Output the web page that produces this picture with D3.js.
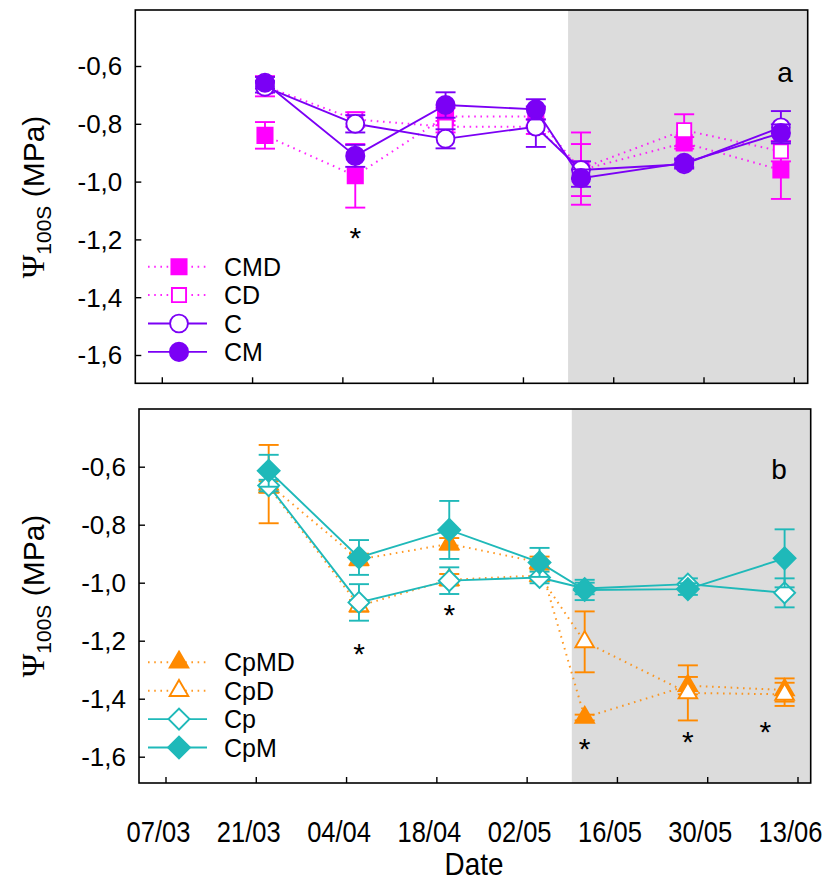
<!DOCTYPE html>
<html><head><meta charset="utf-8">
<script src="https://cdn.jsdelivr.net/npm/d3@7"></script>
<style>body{margin:0;background:#fff}svg{display:block}</style>
</head><body><svg id="c" width="826" height="882"></svg>
<script>
// ---------- data ----------
const dates = ["23/03","06/04","20/04","04/05","11/05","27/05","11/06"];
const xTickLabels = ["07/03","21/03","04/04","18/04","02/05","16/05","30/05","13/06"];
const yTicks = [-0.6,-0.8,-1.0,-1.2,-1.4,-1.6];
const shadeStart = "09/05";

// panel a
const CMD = [-0.84,-0.98,-0.775,-0.775,-0.96,-0.866,-0.96];
const CMD_err = [0.046,0.11,0.03,0.03,0.09,0.02,0.10];
const CD = [-0.67,-0.785,-0.81,-0.81,-0.955,-0.822,-0.895];
const CD_err = [0.035,0.025,0.02,0.025,0.125,0.055,0.035];
const C = [-0.672,-0.80,-0.852,-0.81,-0.96,-0.94,-0.812];
const C_err = [0.02,0.03,0.033,0.07,0.03,0.015,0.056];
const CM = [-0.658,-0.911,-0.735,-0.75,-0.988,-0.935,-0.832];
const CM_err = [0.02,0.038,0.044,0.035,0.03,0.015,0.03];
const starsA_dates = ["06/04"], starsA_vals = [-1.17];

// panel b
const CpMD = [-0.66,-0.92,-0.866,-0.93,-1.465,-1.355,-1.37];
const CpMD_err = [0.135,0.02,0.02,0.02,0.01,0.03,0.04];
const CpD = [-0.67,-1.08,-0.99,-0.975,-1.204,-1.38,-1.385];
const CpD_err = [0.02,0.02,0.02,0.02,0.105,0.095,0.04];
const Cp = [-0.665,-1.068,-0.993,-0.982,-1.02,-1.005,-1.035];
const Cp_err = [0.02,0.063,0.046,0.02,0.02,0.02,0.05];
const CpM = [-0.614,-0.913,-0.818,-0.93,-1.025,-1.022,-0.916];
const CpM_err = [0.055,0.06,0.10,0.05,0.035,0.02,0.10];
const starsB_dates = ["06/04","20/04","11/05","27/05","08/06"];
const starsB_vals = [-1.22,-1.088,-1.55,-1.525,-1.49];

// ---------- helpers ----------
const parse = s => d3.utcParse("%d/%m/%Y")(s + "/2013");
const svg = d3.select("#c");
const MAG = "#ff00ff", PUR = "#7b00f5", TEAL = "#1fb9b9", ORA = "#ff8a00";
const FONT = "'Liberation Sans', Arial, sans-serif";

function shape(type, size) {
  if (type === "diamond") return d3.symbol().type(d3.symbolSquare).size(size)();
  const t = {circle: d3.symbolCircle, square: d3.symbolSquare, triangle: d3.symbolTriangle}[type];
  return d3.symbol().type(t).size(size)();
}

function panel(cfg) {
  const g = svg.append("g");
  const x = d3.scaleUtc().domain([parse(xTickLabels[0]), parse(xTickLabels[xTickLabels.length-1])])
    .range([cfg.left + 26.5, cfg.left + 658.5]);
  const y = d3.scaleLinear().domain([-1.6, -0.6]).range(cfg.yRange);
  const top = cfg.top, bottom = cfg.bottom, left = cfg.left, right = cfg.right;

  g.append("rect").attr("x", x(parse(shadeStart))).attr("y", top)
    .attr("width", right - x(parse(shadeStart))).attr("height", bottom - top)
    .attr("fill", "#dcdcdc");

  cfg.series.forEach(s => {
    const pts = dates.map((d, i) => ({x: x(parse(d)), y: y(s.vals[i]), e: s.err[i], v: s.vals[i]}));
    const sg = g.append("g");
    pts.forEach(p => {
      const y1 = y(p.v + p.e), y2 = y(p.v - p.e);
      sg.append("line").attr("x1", p.x).attr("x2", p.x).attr("y1", y1).attr("y2", y2)
        .attr("stroke", s.color).attr("stroke-width", 1.9);
      [y1, y2].forEach(yy => sg.append("line").attr("x1", p.x - 10).attr("x2", p.x + 10)
        .attr("y1", yy).attr("y2", yy).attr("stroke", s.color).attr("stroke-width", 1.9));
    });
    sg.append("path").attr("d", d3.line().x(p => p.x).y(p => p.y)(pts))
      .attr("fill", "none").attr("stroke", s.color)
      .attr("stroke-width", s.dotted ? 2 : 1.9)
      .attr("stroke-dasharray", s.dotted ? "1.6,4.6" : null)
      .attr("opacity", s.dotted ? 0.85 : 1);
    sg.selectAll("path.m").data(pts).join("path").attr("class", "m")
      .attr("d", shape(s.shape, s.size))
      .attr("transform", p => `translate(${p.x},${p.y})` + (s.shape === "diamond" ? " rotate(45)" : ""))
      .attr("fill", s.filled ? s.color : "#fff").attr("stroke", s.color).attr("stroke-width", 1.9);
  });

  g.append("rect").attr("x", left).attr("y", top).attr("width", right - left).attr("height", bottom - top)
    .attr("fill", "none").attr("stroke", "#000").attr("stroke-width", 1.6);

  const yAxis = d3.axisRight(y).tickValues(yTicks).tickSize(6).tickFormat("");
  const ya = g.append("g").attr("transform", `translate(${left},0)`).call(yAxis);
  ya.select(".domain").remove();
  ya.selectAll("line").attr("stroke", "#000").attr("stroke-width", 1.4);
  yTicks.forEach(t => g.append("text").attr("x", left - 13).attr("y", y(t)).attr("dy", "0.36em")
    .attr("text-anchor", "end").attr("font-family", FONT).attr("font-size", 26)
    .text(d3.format(".1f")(t).replace(".", ",").replace("−", "-")));

  const xAxis = d3.axisTop(x).tickValues(xTickLabels.map(parse)).tickSize(6).tickFormat("");
  const xa = g.append("g").attr("transform", `translate(0,${bottom})`).call(xAxis);
  xa.select(".domain").remove();
  xa.selectAll("line").attr("stroke", "#000").attr("stroke-width", 1.4);
  if (cfg.xLabels) {
    xTickLabels.forEach(t => g.append("text")
      .attr("transform", `translate(${x(parse(t)) - 7},${bottom + 59}) scale(0.88,1)`)
      .attr("text-anchor", "middle").attr("font-family", FONT).attr("font-size", 29).text(t));
  }

  cfg.stars[0].forEach((d, i) => g.append("text").attr("x", x(parse(d))).attr("y", y(cfg.stars[1][i]) + 17)
    .attr("text-anchor", "middle").attr("font-family", FONT).attr("font-size", 30).text("*"));

  g.append("text").attr("x", cfg.letterX).attr("y", cfg.letterY).attr("text-anchor", "middle")
    .attr("font-family", FONT).attr("font-size", 28).text(cfg.letter);

  const yl = g.append("text").attr("transform", `translate(44,${cfg.ylabelY}) rotate(-90)`)
    .attr("text-anchor", "middle").attr("font-family", FONT).attr("font-size", 30);
  yl.append("tspan").attr("font-family", "'Liberation Serif', 'Times New Roman', serif").attr("font-size", 32).text("Ψ");
  yl.append("tspan").attr("font-size", 21).attr("dy", 7).text("100S");
  yl.append("tspan").attr("dy", -7).text(" (MPa)");

  cfg.legendOrder.forEach((s, i) => {
    const ly = cfg.legendY + i * 28.4;
    g.append("line").attr("x1", 148).attr("x2", 207).attr("y1", ly).attr("y2", ly)
      .attr("stroke", s.color).attr("stroke-width", s.dotted ? 2 : 1.9)
      .attr("stroke-dasharray", s.dotted ? "1.6,4.6" : null).attr("opacity", s.dotted ? 0.85 : 1);
    g.append("path").attr("d", shape(s.shape, s.size))
      .attr("transform", `translate(179,${ly})` + (s.shape === "diamond" ? " rotate(45)" : ""))
      .attr("fill", s.filled ? s.color : "#fff").attr("stroke", s.color).attr("stroke-width", 1.9);
    g.append("text").attr("x", 224).attr("y", ly).attr("dy", "0.36em")
      .attr("font-family", FONT).attr("font-size", 25).text(s.name);
  });
}

const sCMD = {name:"CMD", vals:CMD, err:CMD_err, color:MAG, shape:"square", size:230, filled:true, dotted:true};
const sCD = {name:"CD", vals:CD, err:CD_err, color:MAG, shape:"square", size:200, filled:false, dotted:true};
const sC = {name:"C", vals:C, err:C_err, color:PUR, shape:"circle", size:250, filled:false, dotted:false};
const sCM = {name:"CM", vals:CM, err:CM_err, color:PUR, shape:"circle", size:260, filled:true, dotted:false};
panel({left:135.3, right:807.7, top:10, bottom:383.3, yRange:[355,66],
  series:[sCMD, sCD, sC, sCM], legendOrder:[sCMD, sCD, sC, sCM], legendY:266.7,
  stars:[starsA_dates, starsA_vals], letter:"a", letterX:785, letterY:82, ylabelY:197, xLabels:false});

const sCpMD = {name:"CpMD", vals:CpMD, err:CpMD_err, color:ORA, shape:"triangle", size:150, filled:true, dotted:true};
const sCpD = {name:"CpD", vals:CpD, err:CpD_err, color:ORA, shape:"triangle", size:150, filled:false, dotted:true};
const sCp = {name:"Cp", vals:Cp, err:Cp_err, color:TEAL, shape:"diamond", size:220, filled:false, dotted:false};
const sCpM = {name:"CpM", vals:CpM, err:CpM_err, color:TEAL, shape:"diamond", size:240, filled:true, dotted:false};
panel({left:139, right:810.7, top:409, bottom:783, yRange:[756.7,466.7],
  series:[sCpMD, sCpD, sCp, sCpM], legendOrder:[sCpMD, sCpD, sCp, sCpM], legendY:662.3,
  stars:[starsB_dates, starsB_vals], letter:"b", letterX:779, letterY:479, ylabelY:596, xLabels:true});

svg.append("text").attr("transform", "translate(474,875) scale(0.87,1)").attr("text-anchor", "middle")
  .attr("font-family", FONT).attr("font-size", 32).text("Date");
</script></body></html>
